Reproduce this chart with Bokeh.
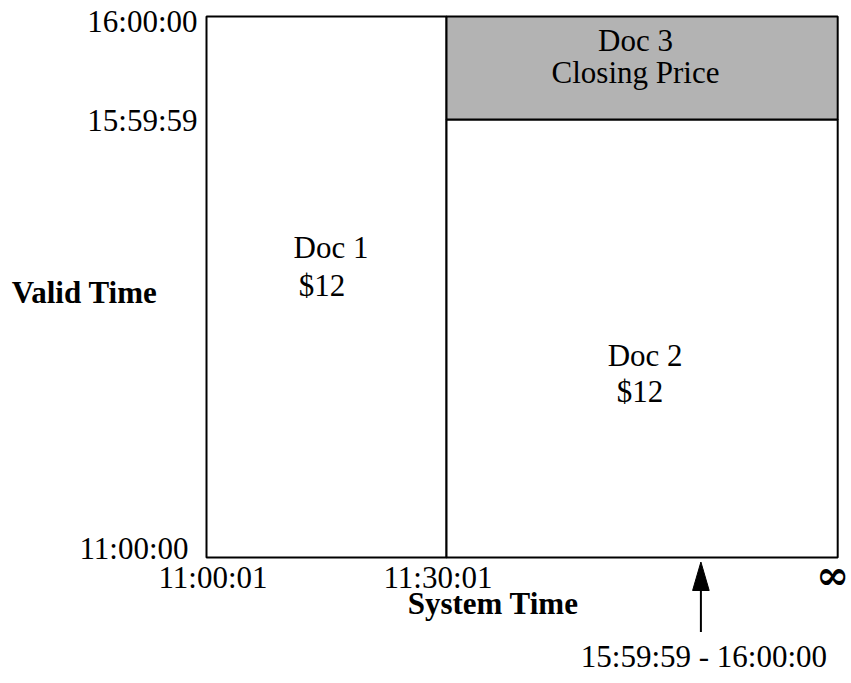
from bokeh.plotting import figure
from bokeh.models import Range1d, ColumnDataSource
from bokeh.core.properties import value
from bokeh.embed import file_html
from bokeh.resources import INLINE

# ---------------- data (schematic positions on the two time axes) ----------------
sys_labels = ["11:00:01", "11:30:01", "\u221e"]
sys_pos = [0.0, 1.0, 2.63]
valid_labels = ["11:00:00", "15:59:59", "16:00:00"]
valid_pos = [0.0, 1.0, 1.235]

doc_names = ["Doc 1", "Doc 2", "Doc 3"]
doc_values = ["$12", "$12", "Closing Price"]
doc_sys_start = [0.0, 1.0, 1.0]
doc_sys_end = [1.0, 2.63, 2.63]
doc_valid_start = [0.0, 0.0, 1.0]
doc_valid_end = [1.235, 1.0, 1.235]

query_label = "15:59:59 - 16:00:00"
query_sys_pos = 2.06

x_title = "System Time"
y_title = "Valid Time"

# ---------------- styling / layout ----------------
W, H = 851, 683
PX_X0, PX_Y0 = 206.0, 557.0      # pixel (in figure) of sys 0 / valid 0
SX, SY = 240.0, 438.0            # pixels per schematic unit
x0 = -PX_X0 / SX
x1 = (W - PX_X0) / SX
y0 = -(H - PX_Y0) / SY
y1 = PX_Y0 / SY
dx = 1.0 / SX
dy = 1.0 / SY
SHIFT = -10                      # baseline correction for text placement

FONT = value("Liberation Serif")
FS = "31px"
doc_fills = ["white", "white", "#b3b3b3"]

p = figure(width=W, height=H, x_range=Range1d(x0, x1), y_range=Range1d(y0, y1),
           x_axis_location=None, y_axis_location=None, min_border=0,
           toolbar_location=None, output_backend="svg", outline_line_color=None)
p.xgrid.visible = False
p.ygrid.visible = False
p.background_fill_color = "white"

# document rectangles
rects = ColumnDataSource(dict(left=doc_sys_start, right=doc_sys_end,
                              bottom=doc_valid_start, top=doc_valid_end,
                              fill=doc_fills))
p.quad(left="left", right="right", bottom="bottom", top="top", source=rects,
       fill_color="fill", line_color="black", line_width=2)

# document labels (name + value) at rectangle centres
cx = [(a + b) / 2 for a, b in zip(doc_sys_start, doc_sys_end)]
cy = [(a + b) / 2 for a, b in zip(doc_valid_start, doc_valid_end)]
name_off = [(4.5, -29.5), (3, 27), (-6.6, -17.5)]
val_off = [(-4.5, 8.5), (-2, 63), (-6.6, 14.5)]
for i in range(3):
    p.text(x=[cx[i]], y=[cy[i]], text=[doc_names[i]], x_offset=name_off[i][0],
           y_offset=name_off[i][1] + SHIFT, text_align="center", text_baseline="alphabetic",
           text_font=FONT, text_font_size=FS, text_color="black")
    p.text(x=[cx[i]], y=[cy[i]], text=[doc_values[i]], x_offset=val_off[i][0],
           y_offset=val_off[i][1] + SHIFT, text_align="center", text_baseline="alphabetic",
           text_font=FONT, text_font_size=FS, text_color="black")

# valid-time tick labels (left)
vt_off = [(-18, 1), (-9, 11), (-9, 15)]
for lab, v, off in zip(valid_labels, valid_pos, vt_off):
    p.text(x=[sys_pos[0]], y=[v], text=[lab], x_offset=off[0], y_offset=off[1] + SHIFT,
           text_align="right", text_baseline="alphabetic",
           text_font=FONT, text_font_size=FS, text_color="black")

# system-time tick labels (bottom)
st_off = [(6.5, 30), (-8.5, 30)]
for lab, s, off in zip(sys_labels[:2], sys_pos[:2], st_off):
    p.text(x=[s], y=[valid_pos[0]], text=[lab], x_offset=off[0], y_offset=off[1] + SHIFT,
           text_align="center", text_baseline="alphabetic",
           text_font=FONT, text_font_size=FS, text_color="black")
p.text(x=[sys_pos[2]], y=[valid_pos[0]], text=[sys_labels[2]], x_offset=-5, y_offset=17,
       text_align="center", text_baseline="middle",
       text_font=value("DejaVu Serif"), text_font_size="40px", text_font_style="bold",
       text_color="black")

# axis titles
p.text(x=[(sys_pos[0] + sys_pos[2]) / 2], y=[valid_pos[0]], text=[x_title],
       x_offset=-29, y_offset=56 + SHIFT, text_align="center", text_baseline="alphabetic",
       text_font=FONT, text_font_size=FS, text_font_style="bold", text_color="black")
p.text(x=[sys_pos[0]], y=[(valid_pos[0] + valid_pos[2]) / 2], text=[y_title],
       x_offset=-122, y_offset=15 + SHIFT, text_align="center", text_baseline="alphabetic",
       text_font=FONT, text_font_size=FS, text_font_style="bold", text_color="black")

# query arrow (points at the system-time axis)
tip = valid_pos[0] - 4.5 * dy
p.segment(x0=[query_sys_pos], y0=[tip - 70 * dy], x1=[query_sys_pos], y1=[tip - 20 * dy],
          line_color="black", line_width=2)
p.patch(x=[query_sys_pos - 8.3 * dx, query_sys_pos, query_sys_pos + 8.3 * dx],
        y=[tip - 28.5 * dy, tip, tip - 28.5 * dy],
        fill_color="black", line_color="black", line_width=1)
p.text(x=[query_sys_pos], y=[valid_pos[0]], text=[query_label], x_offset=3,
       y_offset=109 + SHIFT, text_align="center", text_baseline="alphabetic",
       text_font=FONT, text_font_size=FS, text_color="black")

open("out.html", "w").write(file_html(p, INLINE))
